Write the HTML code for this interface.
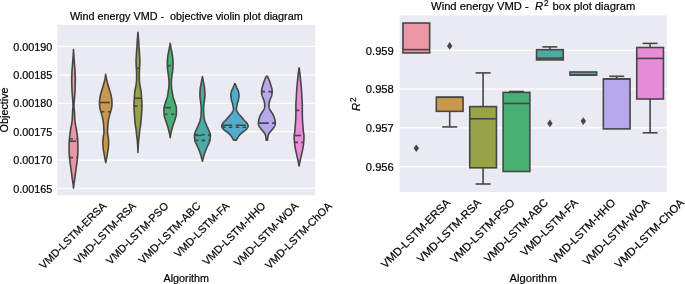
<!DOCTYPE html><html><head><meta charset="utf-8"><style>
html,body{margin:0;padding:0;background:#fff;width:685px;height:284px;overflow:hidden;}
svg{display:block;will-change:transform;}
.r{font-size:11.2px;}
text{font-family:"Liberation Sans",sans-serif;font-size:10.8px;fill:#000;stroke:#000;stroke-width:0.2px;}
</style></head><body>
<svg width="685" height="284" viewBox="0 0 685 284">
<rect width="685" height="284" fill="#fff"/>
<rect x="57.4" y="24.8" width="257.8" height="170.5" fill="#eaeaf2"/>
<line x1="57.4" x2="315.2" y1="46.45" y2="46.45" stroke="#fff" stroke-width="1.25"/>
<text x="52.3" y="50.55" text-anchor="end">0.00190</text>
<line x1="57.4" x2="315.2" y1="74.85" y2="74.85" stroke="#fff" stroke-width="1.25"/>
<text x="52.3" y="78.95" text-anchor="end">0.00185</text>
<line x1="57.4" x2="315.2" y1="103.25" y2="103.25" stroke="#fff" stroke-width="1.25"/>
<text x="52.3" y="107.35" text-anchor="end">0.00180</text>
<line x1="57.4" x2="315.2" y1="131.65" y2="131.65" stroke="#fff" stroke-width="1.25"/>
<text x="52.3" y="135.75" text-anchor="end">0.00175</text>
<line x1="57.4" x2="315.2" y1="160.05" y2="160.05" stroke="#fff" stroke-width="1.25"/>
<text x="52.3" y="164.15" text-anchor="end">0.00170</text>
<line x1="57.4" x2="315.2" y1="188.45" y2="188.45" stroke="#fff" stroke-width="1.25"/>
<text x="52.3" y="192.55" text-anchor="end">0.00165</text>
<rect x="399.6" y="15.4" width="267.2" height="176.7" fill="#eaeaf2"/>
<line x1="399.6" x2="666.8" y1="50.45" y2="50.45" stroke="#fff" stroke-width="1.25"/>
<text x="393.8" y="54.75" text-anchor="end" class="r">0.959</text>
<line x1="399.6" x2="666.8" y1="89.15" y2="89.15" stroke="#fff" stroke-width="1.25"/>
<text x="393.8" y="93.45" text-anchor="end" class="r">0.958</text>
<line x1="399.6" x2="666.8" y1="127.85" y2="127.85" stroke="#fff" stroke-width="1.25"/>
<text x="393.8" y="132.15" text-anchor="end" class="r">0.957</text>
<line x1="399.6" x2="666.8" y1="166.55" y2="166.55" stroke="#fff" stroke-width="1.25"/>
<text x="393.8" y="170.85" text-anchor="end" class="r">0.956</text>
<path d="M73.51,49.6 L73.54,50.1 L73.56,50.6 L73.59,51.1 L73.62,51.6 L73.65,52.1 L73.67,52.6 L73.7,53.1 L73.73,53.6 L73.76,54.1 L73.79,54.6 L73.82,55.1 L73.86,55.6 L73.89,56.1 L73.92,56.61 L73.95,57.11 L73.99,57.61 L74.02,58.11 L74.05,58.61 L74.09,59.11 L74.13,59.61 L74.16,60.11 L74.2,60.61 L74.24,61.11 L74.28,61.61 L74.32,62.11 L74.36,62.61 L74.4,63.11 L74.44,63.61 L74.47,64.11 L74.51,64.61 L74.55,65.11 L74.59,65.61 L74.64,66.11 L74.68,66.61 L74.72,67.11 L74.77,67.61 L74.81,68.11 L74.85,68.61 L74.89,69.11 L74.93,69.61 L74.96,70.11 L74.99,70.62 L75.02,71.12 L75.04,71.62 L75.07,72.12 L75.1,72.62 L75.12,73.12 L75.15,73.62 L75.17,74.12 L75.2,74.62 L75.22,75.12 L75.24,75.62 L75.26,76.12 L75.28,76.62 L75.29,77.12 L75.3,77.62 L75.31,78.12 L75.31,78.62 L75.31,79.12 L75.31,79.62 L75.31,80.12 L75.3,80.62 L75.3,81.12 L75.29,81.62 L75.28,82.12 L75.27,82.62 L75.26,83.12 L75.25,83.62 L75.24,84.12 L75.23,84.63 L75.22,85.13 L75.2,85.63 L75.19,86.13 L75.17,86.63 L75.15,87.13 L75.14,87.63 L75.12,88.13 L75.1,88.63 L75.09,89.13 L75.07,89.63 L75.05,90.13 L75.03,90.63 L75,91.13 L74.97,91.63 L74.94,92.13 L74.9,92.63 L74.86,93.13 L74.82,93.63 L74.78,94.13 L74.74,94.63 L74.7,95.13 L74.66,95.63 L74.62,96.13 L74.58,96.63 L74.54,97.13 L74.51,97.63 L74.47,98.14 L74.44,98.64 L74.4,99.14 L74.36,99.64 L74.31,100.14 L74.27,100.64 L74.23,101.14 L74.19,101.64 L74.15,102.14 L74.12,102.64 L74.09,103.14 L74.06,103.64 L74.04,104.14 L74.02,104.64 L74.01,105.14 L74.01,105.64 L74.02,106.14 L74.03,106.64 L74.06,107.14 L74.08,107.64 L74.12,108.14 L74.15,108.64 L74.19,109.14 L74.23,109.64 L74.28,110.14 L74.32,110.64 L74.36,111.14 L74.4,111.64 L74.44,112.15 L74.47,112.65 L74.5,113.15 L74.53,113.65 L74.55,114.15 L74.57,114.65 L74.59,115.15 L74.61,115.65 L74.63,116.15 L74.65,116.65 L74.67,117.15 L74.69,117.65 L74.71,118.15 L74.74,118.65 L74.77,119.15 L74.81,119.65 L74.86,120.15 L74.91,120.65 L74.97,121.15 L75.04,121.65 L75.11,122.15 L75.18,122.65 L75.25,123.15 L75.33,123.65 L75.41,124.15 L75.49,124.65 L75.57,125.15 L75.67,125.65 L75.77,126.16 L75.88,126.66 L75.98,127.16 L76.09,127.66 L76.19,128.16 L76.28,128.66 L76.37,129.16 L76.45,129.66 L76.53,130.16 L76.6,130.66 L76.67,131.16 L76.74,131.66 L76.81,132.16 L76.88,132.66 L76.94,133.16 L77,133.66 L77.06,134.16 L77.12,134.66 L77.18,135.16 L77.24,135.66 L77.3,136.16 L77.36,136.66 L77.41,137.16 L77.47,137.66 L77.52,138.16 L77.56,138.66 L77.61,139.16 L77.65,139.66 L77.68,140.17 L77.71,140.67 L77.75,141.17 L77.78,141.67 L77.81,142.17 L77.84,142.67 L77.86,143.17 L77.88,143.67 L77.9,144.17 L77.91,144.67 L77.91,145.17 L77.91,145.67 L77.91,146.17 L77.91,146.67 L77.91,147.17 L77.91,147.67 L77.91,148.17 L77.91,148.67 L77.91,149.17 L77.91,149.67 L77.91,150.17 L77.91,150.67 L77.9,151.17 L77.89,151.67 L77.87,152.17 L77.85,152.67 L77.82,153.17 L77.79,153.68 L77.76,154.18 L77.73,154.68 L77.7,155.18 L77.67,155.68 L77.63,156.18 L77.59,156.68 L77.55,157.18 L77.5,157.68 L77.45,158.18 L77.4,158.68 L77.34,159.18 L77.28,159.68 L77.23,160.18 L77.17,160.68 L77.11,161.18 L77.05,161.68 L76.99,162.18 L76.93,162.68 L76.87,163.18 L76.8,163.68 L76.74,164.18 L76.67,164.68 L76.6,165.18 L76.53,165.68 L76.45,166.18 L76.38,166.68 L76.3,167.18 L76.23,167.69 L76.16,168.19 L76.08,168.69 L76.01,169.19 L75.94,169.69 L75.87,170.19 L75.8,170.69 L75.74,171.19 L75.67,171.69 L75.61,172.19 L75.55,172.69 L75.48,173.19 L75.42,173.69 L75.36,174.19 L75.3,174.69 L75.24,175.19 L75.18,175.69 L75.12,176.19 L75.05,176.69 L74.99,177.19 L74.92,177.69 L74.86,178.19 L74.79,178.69 L74.71,179.19 L74.63,179.69 L74.55,180.19 L74.47,180.69 L74.39,181.19 L74.31,181.7 L74.23,182.2 L74.15,182.7 L74.08,183.2 L74.01,183.7 L73.95,184.2 L73.89,184.7 L73.83,185.2 L73.77,185.7 L73.71,186.2 L73.66,186.7 L73.61,187.2 L73.56,187.7 L73.51,188.2 L73.51,188.2 L73.47,187.7 L73.42,187.2 L73.36,186.7 L73.31,186.2 L73.26,185.7 L73.2,185.2 L73.14,184.7 L73.08,184.2 L73.01,183.7 L72.94,183.2 L72.87,182.7 L72.8,182.2 L72.72,181.7 L72.64,181.19 L72.55,180.69 L72.47,180.19 L72.39,179.69 L72.31,179.19 L72.24,178.69 L72.17,178.19 L72.1,177.69 L72.04,177.19 L71.97,176.69 L71.91,176.19 L71.85,175.69 L71.78,175.19 L71.72,174.69 L71.66,174.19 L71.6,173.69 L71.54,173.19 L71.48,172.69 L71.42,172.19 L71.35,171.69 L71.29,171.19 L71.22,170.69 L71.16,170.19 L71.09,169.69 L71.02,169.19 L70.94,168.69 L70.87,168.19 L70.79,167.69 L70.72,167.18 L70.65,166.68 L70.57,166.18 L70.5,165.68 L70.43,165.18 L70.36,164.68 L70.29,164.18 L70.22,163.68 L70.16,163.18 L70.1,162.68 L70.04,162.18 L69.98,161.68 L69.92,161.18 L69.86,160.68 L69.8,160.18 L69.74,159.68 L69.68,159.18 L69.63,158.68 L69.58,158.18 L69.53,157.68 L69.48,157.18 L69.43,156.68 L69.39,156.18 L69.36,155.68 L69.32,155.18 L69.29,154.68 L69.26,154.18 L69.23,153.68 L69.21,153.17 L69.18,152.67 L69.16,152.17 L69.14,151.67 L69.12,151.17 L69.11,150.67 L69.11,150.17 L69.11,149.67 L69.11,149.17 L69.11,148.67 L69.11,148.17 L69.11,147.67 L69.11,147.17 L69.11,146.67 L69.11,146.17 L69.11,145.67 L69.11,145.17 L69.12,144.67 L69.12,144.17 L69.14,143.67 L69.16,143.17 L69.19,142.67 L69.21,142.17 L69.25,141.67 L69.28,141.17 L69.31,140.67 L69.34,140.17 L69.38,139.66 L69.42,139.16 L69.46,138.66 L69.51,138.16 L69.56,137.66 L69.61,137.16 L69.67,136.66 L69.73,136.16 L69.79,135.66 L69.85,135.16 L69.91,134.66 L69.96,134.16 L70.02,133.66 L70.09,133.16 L70.15,132.66 L70.21,132.16 L70.28,131.66 L70.35,131.16 L70.42,130.66 L70.5,130.16 L70.57,129.66 L70.65,129.16 L70.74,128.66 L70.84,128.16 L70.94,127.66 L71.04,127.16 L71.15,126.66 L71.25,126.16 L71.35,125.65 L71.45,125.15 L71.54,124.65 L71.62,124.15 L71.7,123.65 L71.77,123.15 L71.85,122.65 L71.92,122.15 L71.99,121.65 L72.05,121.15 L72.11,120.65 L72.17,120.15 L72.21,119.65 L72.25,119.15 L72.28,118.65 L72.31,118.15 L72.34,117.65 L72.36,117.15 L72.38,116.65 L72.4,116.15 L72.42,115.65 L72.43,115.15 L72.45,114.65 L72.47,114.15 L72.5,113.65 L72.52,113.15 L72.55,112.65 L72.59,112.15 L72.62,111.64 L72.66,111.14 L72.71,110.64 L72.75,110.14 L72.79,109.64 L72.83,109.14 L72.87,108.64 L72.91,108.14 L72.94,107.64 L72.97,107.14 L72.99,106.64 L73.01,106.14 L73.01,105.64 L73.01,105.14 L73,104.64 L72.99,104.14 L72.96,103.64 L72.94,103.14 L72.91,102.64 L72.87,102.14 L72.84,101.64 L72.8,101.14 L72.75,100.64 L72.71,100.14 L72.67,99.64 L72.63,99.14 L72.59,98.64 L72.55,98.14 L72.51,97.63 L72.48,97.13 L72.44,96.63 L72.4,96.13 L72.37,95.63 L72.32,95.13 L72.28,94.63 L72.24,94.13 L72.2,93.63 L72.16,93.13 L72.12,92.63 L72.09,92.13 L72.06,91.63 L72.03,91.13 L72,90.63 L71.98,90.13 L71.96,89.63 L71.94,89.13 L71.92,88.63 L71.9,88.13 L71.89,87.63 L71.87,87.13 L71.85,86.63 L71.84,86.13 L71.82,85.63 L71.81,85.13 L71.8,84.63 L71.78,84.12 L71.77,83.62 L71.76,83.12 L71.75,82.62 L71.74,82.12 L71.73,81.62 L71.73,81.12 L71.72,80.62 L71.72,80.12 L71.71,79.62 L71.71,79.12 L71.71,78.62 L71.72,78.12 L71.72,77.62 L71.74,77.12 L71.75,76.62 L71.77,76.12 L71.78,75.62 L71.8,75.12 L71.83,74.62 L71.85,74.12 L71.87,73.62 L71.9,73.12 L71.93,72.62 L71.95,72.12 L71.98,71.62 L72.01,71.12 L72.03,70.62 L72.06,70.11 L72.1,69.61 L72.14,69.11 L72.17,68.61 L72.22,68.11 L72.26,67.61 L72.3,67.11 L72.34,66.61 L72.39,66.11 L72.43,65.61 L72.47,65.11 L72.51,64.61 L72.55,64.11 L72.59,63.61 L72.63,63.11 L72.67,62.61 L72.71,62.11 L72.75,61.61 L72.79,61.11 L72.82,60.61 L72.86,60.11 L72.9,59.61 L72.94,59.11 L72.97,58.61 L73.01,58.11 L73.04,57.61 L73.07,57.11 L73.1,56.61 L73.14,56.1 L73.17,55.6 L73.2,55.1 L73.23,54.6 L73.26,54.1 L73.29,53.6 L73.32,53.1 L73.35,52.6 L73.38,52.1 L73.41,51.6 L73.43,51.1 L73.46,50.6 L73.49,50.1 L73.51,49.6Z" fill="#ea96a3" stroke="#464646" stroke-width="1.6" stroke-linejoin="round"/>
<line x1="69.49" x2="77.54" y1="138.8" y2="138.8" stroke="#464646" stroke-width="1.6" stroke-dasharray="3.4 3.4"/>
<line x1="69.32" x2="77.71" y1="141.2" y2="141.2" stroke="#464646" stroke-width="1.6" stroke-dasharray="6.8 6.8"/>
<line x1="69.56" x2="77.47" y1="157.6" y2="157.6" stroke="#464646" stroke-width="1.6" stroke-dasharray="3.4 3.4"/>
<path d="M105.74,74.2 L105.8,74.7 L105.88,75.2 L105.95,75.71 L106.03,76.21 L106.12,76.71 L106.2,77.21 L106.3,77.72 L106.39,78.22 L106.49,78.72 L106.59,79.22 L106.69,79.73 L106.8,80.23 L106.91,80.73 L107.03,81.23 L107.15,81.73 L107.28,82.24 L107.42,82.74 L107.56,83.24 L107.7,83.74 L107.85,84.25 L107.99,84.75 L108.14,85.25 L108.28,85.75 L108.43,86.25 L108.58,86.76 L108.73,87.26 L108.89,87.76 L109.04,88.26 L109.2,88.77 L109.35,89.27 L109.51,89.77 L109.66,90.27 L109.8,90.78 L109.95,91.28 L110.09,91.78 L110.25,92.28 L110.4,92.78 L110.54,93.29 L110.69,93.79 L110.83,94.29 L110.96,94.79 L111.07,95.3 L111.18,95.8 L111.27,96.3 L111.36,96.8 L111.45,97.3 L111.54,97.81 L111.62,98.31 L111.7,98.81 L111.77,99.31 L111.83,99.82 L111.88,100.32 L111.92,100.82 L111.94,101.32 L111.95,101.83 L111.97,102.33 L111.98,102.83 L111.98,103.33 L111.99,103.83 L111.98,104.34 L111.96,104.84 L111.92,105.34 L111.87,105.84 L111.82,106.35 L111.76,106.85 L111.69,107.35 L111.61,107.85 L111.51,108.35 L111.39,108.86 L111.27,109.36 L111.13,109.86 L111,110.36 L110.86,110.87 L110.72,111.37 L110.59,111.87 L110.46,112.37 L110.31,112.88 L110.16,113.38 L110.01,113.88 L109.86,114.38 L109.71,114.88 L109.56,115.39 L109.42,115.89 L109.29,116.39 L109.16,116.89 L109.05,117.4 L108.93,117.9 L108.82,118.4 L108.71,118.9 L108.6,119.4 L108.5,119.91 L108.4,120.41 L108.32,120.91 L108.24,121.41 L108.17,121.92 L108.11,122.42 L108.06,122.92 L108.01,123.42 L107.97,123.92 L107.93,124.43 L107.89,124.93 L107.85,125.43 L107.82,125.93 L107.79,126.44 L107.76,126.94 L107.74,127.44 L107.71,127.94 L107.68,128.45 L107.66,128.95 L107.63,129.45 L107.61,129.95 L107.58,130.45 L107.57,130.96 L107.55,131.46 L107.54,131.96 L107.54,132.46 L107.55,132.97 L107.59,133.47 L107.66,133.97 L107.74,134.47 L107.84,134.97 L107.95,135.48 L108.05,135.98 L108.14,136.48 L108.21,136.98 L108.27,137.49 L108.32,137.99 L108.37,138.49 L108.43,138.99 L108.48,139.5 L108.52,140 L108.56,140.5 L108.59,141 L108.62,141.5 L108.63,142.01 L108.64,142.51 L108.63,143.01 L108.62,143.51 L108.6,144.02 L108.57,144.52 L108.54,145.02 L108.51,145.52 L108.47,146.02 L108.43,146.53 L108.39,147.03 L108.34,147.53 L108.3,148.03 L108.24,148.54 L108.17,149.04 L108.1,149.54 L108.02,150.04 L107.94,150.55 L107.85,151.05 L107.77,151.55 L107.68,152.05 L107.59,152.55 L107.51,153.06 L107.43,153.56 L107.35,154.06 L107.26,154.56 L107.18,155.07 L107.09,155.57 L107,156.07 L106.92,156.57 L106.83,157.07 L106.73,157.58 L106.64,158.08 L106.55,158.58 L106.45,159.08 L106.35,159.59 L106.25,160.09 L106.15,160.59 L106.05,161.09 L105.95,161.6 L105.84,162.1 L105.74,162.6 L105.74,162.6 L105.63,162.1 L105.53,161.6 L105.42,161.09 L105.32,160.59 L105.22,160.09 L105.12,159.59 L105.02,159.08 L104.93,158.58 L104.83,158.08 L104.74,157.58 L104.65,157.07 L104.56,156.57 L104.47,156.07 L104.38,155.57 L104.3,155.07 L104.21,154.56 L104.13,154.06 L104.04,153.56 L103.96,153.06 L103.88,152.55 L103.8,152.05 L103.71,151.55 L103.62,151.05 L103.54,150.55 L103.45,150.04 L103.37,149.54 L103.3,149.04 L103.23,148.54 L103.18,148.03 L103.13,147.53 L103.09,147.03 L103.05,146.53 L103.01,146.02 L102.97,145.52 L102.93,145.02 L102.9,144.52 L102.88,144.02 L102.86,143.51 L102.84,143.01 L102.84,142.51 L102.84,142.01 L102.86,141.5 L102.88,141 L102.91,140.5 L102.95,140 L103,139.5 L103.05,138.99 L103.1,138.49 L103.15,137.99 L103.21,137.49 L103.26,136.98 L103.34,136.48 L103.43,135.98 L103.53,135.48 L103.63,134.97 L103.73,134.47 L103.82,133.97 L103.89,133.47 L103.93,132.97 L103.94,132.46 L103.93,131.96 L103.92,131.46 L103.91,130.96 L103.89,130.45 L103.87,129.95 L103.84,129.45 L103.82,128.95 L103.79,128.45 L103.77,127.94 L103.74,127.44 L103.71,126.94 L103.68,126.44 L103.65,125.93 L103.62,125.43 L103.59,124.93 L103.55,124.43 L103.51,123.92 L103.46,123.42 L103.41,122.92 L103.36,122.42 L103.3,121.92 L103.24,121.41 L103.16,120.91 L103.07,120.41 L102.98,119.91 L102.87,119.4 L102.77,118.9 L102.66,118.4 L102.54,117.9 L102.43,117.4 L102.31,116.89 L102.19,116.39 L102.06,115.89 L101.91,115.39 L101.77,114.88 L101.61,114.38 L101.46,113.88 L101.31,113.38 L101.16,112.88 L101.02,112.37 L100.88,111.87 L100.75,111.37 L100.62,110.87 L100.48,110.36 L100.34,109.86 L100.21,109.36 L100.08,108.86 L99.97,108.35 L99.87,107.85 L99.78,107.35 L99.72,106.85 L99.66,106.35 L99.6,105.84 L99.55,105.34 L99.52,104.84 L99.49,104.34 L99.49,103.83 L99.49,103.33 L99.5,102.83 L99.51,102.33 L99.52,101.83 L99.54,101.32 L99.56,100.82 L99.6,100.32 L99.64,99.82 L99.7,99.31 L99.77,98.81 L99.85,98.31 L99.93,97.81 L100.02,97.3 L100.11,96.8 L100.2,96.3 L100.29,95.8 L100.4,95.3 L100.52,94.79 L100.65,94.29 L100.79,93.79 L100.93,93.29 L101.08,92.78 L101.23,92.28 L101.38,91.78 L101.53,91.28 L101.67,90.78 L101.82,90.27 L101.97,89.77 L102.12,89.27 L102.28,88.77 L102.43,88.26 L102.59,87.76 L102.74,87.26 L102.9,86.76 L103.05,86.25 L103.19,85.75 L103.34,85.25 L103.48,84.75 L103.63,84.25 L103.77,83.74 L103.92,83.24 L104.06,82.74 L104.19,82.24 L104.32,81.73 L104.45,81.23 L104.56,80.73 L104.67,80.23 L104.78,79.73 L104.88,79.22 L104.99,78.72 L105.08,78.22 L105.18,77.72 L105.27,77.21 L105.36,76.71 L105.44,76.21 L105.52,75.71 L105.6,75.2 L105.67,74.7 L105.74,74.2Z" fill="#ca984c" stroke="#464646" stroke-width="1.6" stroke-linejoin="round"/>
<line x1="99.57" x2="111.91" y1="102.5" y2="102.5" stroke="#464646" stroke-width="1.6" stroke-dasharray="10.2 3.4"/>
<line x1="100.89" x2="110.59" y1="111.7" y2="111.7" stroke="#464646" stroke-width="1.6" stroke-dasharray="3.4 3.4"/>
<path d="M137.96,32.2 L138.01,32.7 L138.05,33.2 L138.09,33.7 L138.14,34.2 L138.18,34.7 L138.22,35.21 L138.26,35.71 L138.3,36.21 L138.34,36.71 L138.38,37.21 L138.41,37.71 L138.45,38.21 L138.48,38.71 L138.52,39.21 L138.55,39.71 L138.58,40.21 L138.62,40.71 L138.65,41.22 L138.68,41.72 L138.71,42.22 L138.74,42.72 L138.77,43.22 L138.8,43.72 L138.83,44.22 L138.86,44.72 L138.89,45.22 L138.92,45.72 L138.96,46.22 L138.99,46.72 L139.03,47.23 L139.06,47.73 L139.1,48.23 L139.14,48.73 L139.18,49.23 L139.21,49.73 L139.25,50.23 L139.29,50.73 L139.33,51.23 L139.36,51.73 L139.4,52.23 L139.43,52.73 L139.46,53.23 L139.49,53.74 L139.52,54.24 L139.55,54.74 L139.58,55.24 L139.61,55.74 L139.64,56.24 L139.67,56.74 L139.7,57.24 L139.73,57.74 L139.75,58.24 L139.78,58.74 L139.8,59.25 L139.82,59.75 L139.84,60.25 L139.85,60.75 L139.86,61.25 L139.86,61.75 L139.86,62.25 L139.85,62.75 L139.84,63.25 L139.82,63.75 L139.8,64.25 L139.77,64.75 L139.75,65.25 L139.72,65.76 L139.69,66.26 L139.66,66.76 L139.63,67.26 L139.6,67.76 L139.57,68.26 L139.55,68.76 L139.53,69.26 L139.5,69.76 L139.47,70.26 L139.44,70.76 L139.41,71.27 L139.39,71.77 L139.36,72.27 L139.34,72.77 L139.33,73.27 L139.32,73.77 L139.31,74.27 L139.31,74.77 L139.31,75.27 L139.32,75.77 L139.32,76.27 L139.32,76.77 L139.33,77.28 L139.34,77.78 L139.34,78.28 L139.35,78.78 L139.36,79.28 L139.37,79.78 L139.38,80.28 L139.41,80.78 L139.45,81.28 L139.49,81.78 L139.55,82.28 L139.6,82.78 L139.67,83.28 L139.73,83.79 L139.8,84.29 L139.88,84.79 L139.95,85.29 L140.02,85.79 L140.09,86.29 L140.17,86.79 L140.27,87.29 L140.38,87.79 L140.49,88.29 L140.6,88.79 L140.71,89.3 L140.82,89.8 L140.91,90.3 L141,90.8 L141.06,91.3 L141.12,91.8 L141.17,92.3 L141.21,92.8 L141.25,93.3 L141.29,93.8 L141.33,94.3 L141.37,94.8 L141.4,95.31 L141.43,95.81 L141.47,96.31 L141.5,96.81 L141.53,97.31 L141.56,97.81 L141.59,98.31 L141.62,98.81 L141.66,99.31 L141.69,99.81 L141.72,100.31 L141.76,100.81 L141.79,101.32 L141.82,101.82 L141.85,102.32 L141.88,102.82 L141.9,103.32 L141.93,103.82 L141.94,104.32 L141.95,104.82 L141.96,105.32 L141.96,105.82 L141.96,106.32 L141.95,106.82 L141.93,107.33 L141.92,107.83 L141.89,108.33 L141.87,108.83 L141.84,109.33 L141.81,109.83 L141.78,110.33 L141.76,110.83 L141.73,111.33 L141.7,111.83 L141.67,112.33 L141.64,112.83 L141.6,113.34 L141.57,113.84 L141.53,114.34 L141.49,114.84 L141.45,115.34 L141.41,115.84 L141.36,116.34 L141.32,116.84 L141.28,117.34 L141.23,117.84 L141.19,118.34 L141.15,118.84 L141.11,119.35 L141.07,119.85 L141.03,120.35 L140.98,120.85 L140.94,121.35 L140.9,121.85 L140.85,122.35 L140.8,122.85 L140.75,123.35 L140.7,123.85 L140.65,124.35 L140.59,124.85 L140.53,125.36 L140.47,125.86 L140.39,126.36 L140.3,126.86 L140.2,127.36 L140.1,127.86 L140,128.36 L139.91,128.86 L139.84,129.36 L139.78,129.86 L139.73,130.36 L139.68,130.86 L139.64,131.37 L139.59,131.87 L139.55,132.37 L139.51,132.87 L139.46,133.37 L139.42,133.87 L139.37,134.37 L139.31,134.87 L139.25,135.37 L139.18,135.87 L139.11,136.37 L139.05,136.87 L138.98,137.38 L138.91,137.88 L138.85,138.38 L138.79,138.88 L138.73,139.38 L138.69,139.88 L138.64,140.38 L138.6,140.88 L138.56,141.38 L138.52,141.88 L138.48,142.38 L138.44,142.88 L138.41,143.38 L138.37,143.89 L138.34,144.39 L138.31,144.89 L138.28,145.39 L138.26,145.89 L138.23,146.39 L138.2,146.89 L138.17,147.39 L138.15,147.89 L138.12,148.39 L138.1,148.89 L138.08,149.4 L138.05,149.9 L138.03,150.4 L138.01,150.9 L138,151.4 L137.98,151.9 L137.96,152.4 L137.96,152.4 L137.95,151.9 L137.93,151.4 L137.91,150.9 L137.89,150.4 L137.87,149.9 L137.85,149.4 L137.83,148.89 L137.8,148.39 L137.78,147.89 L137.75,147.39 L137.72,146.89 L137.7,146.39 L137.67,145.89 L137.64,145.39 L137.61,144.89 L137.58,144.39 L137.55,143.89 L137.52,143.38 L137.48,142.88 L137.45,142.38 L137.41,141.88 L137.37,141.38 L137.33,140.88 L137.28,140.38 L137.24,139.88 L137.19,139.38 L137.14,138.88 L137.08,138.38 L137.01,137.88 L136.95,137.38 L136.88,136.87 L136.81,136.37 L136.74,135.87 L136.68,135.37 L136.62,134.87 L136.56,134.37 L136.51,133.87 L136.46,133.37 L136.42,132.87 L136.37,132.37 L136.33,131.87 L136.29,131.37 L136.24,130.86 L136.19,130.36 L136.14,129.86 L136.08,129.36 L136.01,128.86 L135.93,128.36 L135.83,127.86 L135.72,127.36 L135.62,126.86 L135.53,126.36 L135.46,125.86 L135.39,125.36 L135.33,124.85 L135.28,124.35 L135.22,123.85 L135.17,123.35 L135.12,122.85 L135.07,122.35 L135.03,121.85 L134.98,121.35 L134.94,120.85 L134.9,120.35 L134.86,119.85 L134.82,119.35 L134.78,118.84 L134.73,118.34 L134.69,117.84 L134.65,117.34 L134.6,116.84 L134.56,116.34 L134.52,115.84 L134.48,115.34 L134.44,114.84 L134.4,114.34 L134.36,113.84 L134.32,113.34 L134.29,112.83 L134.26,112.33 L134.23,111.83 L134.2,111.33 L134.17,110.83 L134.14,110.33 L134.11,109.83 L134.08,109.33 L134.06,108.83 L134.03,108.33 L134.01,107.83 L133.99,107.33 L133.98,106.82 L133.97,106.32 L133.96,105.82 L133.96,105.32 L133.97,104.82 L133.98,104.32 L134,103.82 L134.02,103.32 L134.04,102.82 L134.07,102.32 L134.1,101.82 L134.13,101.32 L134.17,100.81 L134.2,100.31 L134.24,99.81 L134.27,99.31 L134.3,98.81 L134.34,98.31 L134.37,97.81 L134.4,97.31 L134.43,96.81 L134.46,96.31 L134.49,95.81 L134.52,95.31 L134.56,94.8 L134.59,94.3 L134.63,93.8 L134.67,93.3 L134.71,92.8 L134.76,92.3 L134.81,91.8 L134.86,91.3 L134.93,90.8 L135.01,90.3 L135.11,89.8 L135.21,89.3 L135.32,88.79 L135.44,88.29 L135.55,87.79 L135.65,87.29 L135.75,86.79 L135.83,86.29 L135.91,85.79 L135.98,85.29 L136.05,84.79 L136.12,84.29 L136.19,83.79 L136.26,83.28 L136.32,82.78 L136.38,82.28 L136.43,81.78 L136.48,81.28 L136.51,80.78 L136.54,80.28 L136.56,79.78 L136.57,79.28 L136.58,78.78 L136.58,78.28 L136.59,77.78 L136.6,77.28 L136.6,76.77 L136.6,76.27 L136.61,75.77 L136.61,75.27 L136.61,74.77 L136.61,74.27 L136.61,73.77 L136.6,73.27 L136.58,72.77 L136.56,72.27 L136.54,71.77 L136.51,71.27 L136.48,70.76 L136.46,70.26 L136.43,69.76 L136.4,69.26 L136.37,68.76 L136.35,68.26 L136.33,67.76 L136.3,67.26 L136.27,66.76 L136.24,66.26 L136.21,65.76 L136.18,65.25 L136.15,64.75 L136.13,64.25 L136.1,63.75 L136.09,63.25 L136.07,62.75 L136.06,62.25 L136.06,61.75 L136.07,61.25 L136.08,60.75 L136.09,60.25 L136.1,59.75 L136.12,59.25 L136.15,58.74 L136.17,58.24 L136.2,57.74 L136.23,57.24 L136.26,56.74 L136.29,56.24 L136.32,55.74 L136.35,55.24 L136.38,54.74 L136.4,54.24 L136.43,53.74 L136.46,53.23 L136.49,52.73 L136.53,52.23 L136.56,51.73 L136.6,51.23 L136.64,50.73 L136.67,50.23 L136.71,49.73 L136.75,49.23 L136.79,48.73 L136.83,48.23 L136.86,47.73 L136.9,47.23 L136.93,46.72 L136.97,46.22 L137,45.72 L137.03,45.22 L137.06,44.72 L137.09,44.22 L137.13,43.72 L137.16,43.22 L137.19,42.72 L137.22,42.22 L137.25,41.72 L137.28,41.22 L137.31,40.71 L137.34,40.21 L137.37,39.71 L137.41,39.21 L137.44,38.71 L137.48,38.21 L137.51,37.71 L137.55,37.21 L137.59,36.71 L137.63,36.21 L137.67,35.71 L137.71,35.21 L137.75,34.7 L137.79,34.2 L137.83,33.7 L137.88,33.2 L137.92,32.7 L137.96,32.2Z" fill="#98a246" stroke="#464646" stroke-width="1.6" stroke-linejoin="round"/>
<line x1="136.37" x2="139.56" y1="68.3" y2="68.3" stroke="#464646" stroke-width="1.6" stroke-dasharray="3.4 3.4"/>
<line x1="134.38" x2="141.55" y1="98.2" y2="98.2" stroke="#464646" stroke-width="1.6" stroke-dasharray="6.8 6.8"/>
<line x1="134" x2="141.92" y1="106.1" y2="106.1" stroke="#464646" stroke-width="1.6" stroke-dasharray="3.4 3.4"/>
<path d="M170.19,43.2 L170.27,43.7 L170.35,44.2 L170.44,44.71 L170.52,45.21 L170.61,45.71 L170.7,46.21 L170.79,46.71 L170.87,47.22 L170.96,47.72 L171.05,48.22 L171.15,48.72 L171.24,49.23 L171.34,49.73 L171.44,50.23 L171.55,50.73 L171.65,51.23 L171.75,51.74 L171.84,52.24 L171.94,52.74 L172.03,53.24 L172.11,53.74 L172.2,54.25 L172.28,54.75 L172.37,55.25 L172.45,55.75 L172.53,56.26 L172.61,56.76 L172.68,57.26 L172.74,57.76 L172.79,58.26 L172.83,58.77 L172.86,59.27 L172.89,59.77 L172.92,60.27 L172.94,60.77 L172.97,61.28 L172.99,61.78 L173.01,62.28 L173.02,62.78 L173.03,63.29 L173.04,63.79 L173.04,64.29 L173.03,64.79 L173.02,65.29 L173,65.8 L172.98,66.3 L172.95,66.8 L172.92,67.3 L172.89,67.8 L172.86,68.31 L172.82,68.81 L172.79,69.31 L172.74,69.81 L172.69,70.31 L172.62,70.82 L172.55,71.32 L172.47,71.82 L172.39,72.32 L172.3,72.83 L172.22,73.33 L172.14,73.83 L172.07,74.33 L172.01,74.83 L171.95,75.34 L171.89,75.84 L171.83,76.34 L171.77,76.84 L171.71,77.34 L171.66,77.85 L171.6,78.35 L171.55,78.85 L171.5,79.35 L171.45,79.86 L171.41,80.36 L171.38,80.86 L171.36,81.36 L171.34,81.86 L171.34,82.37 L171.34,82.87 L171.35,83.37 L171.36,83.87 L171.37,84.37 L171.38,84.88 L171.4,85.38 L171.42,85.88 L171.44,86.38 L171.47,86.89 L171.52,87.39 L171.57,87.89 L171.64,88.39 L171.71,88.89 L171.78,89.4 L171.87,89.9 L171.95,90.4 L172.03,90.9 L172.11,91.4 L172.18,91.91 L172.26,92.41 L172.33,92.91 L172.41,93.41 L172.49,93.91 L172.57,94.42 L172.66,94.92 L172.75,95.42 L172.85,95.92 L172.95,96.43 L173.07,96.93 L173.2,97.43 L173.34,97.93 L173.5,98.43 L173.67,98.94 L173.85,99.44 L174.03,99.94 L174.22,100.44 L174.39,100.94 L174.56,101.45 L174.72,101.95 L174.88,102.45 L175.03,102.95 L175.19,103.46 L175.35,103.96 L175.51,104.46 L175.66,104.96 L175.8,105.46 L175.93,105.97 L176.05,106.47 L176.15,106.97 L176.23,107.47 L176.32,107.97 L176.39,108.48 L176.43,108.98 L176.44,109.48 L176.43,109.98 L176.43,110.49 L176.42,110.99 L176.4,111.49 L176.39,111.99 L176.37,112.49 L176.35,113 L176.32,113.5 L176.3,114 L176.27,114.5 L176.21,115 L176.12,115.51 L176.02,116.01 L175.9,116.51 L175.76,117.01 L175.61,117.51 L175.46,118.02 L175.31,118.52 L175.16,119.02 L175.01,119.52 L174.86,120.03 L174.71,120.53 L174.54,121.03 L174.36,121.53 L174.19,122.03 L174,122.54 L173.82,123.04 L173.64,123.54 L173.47,124.04 L173.3,124.54 L173.14,125.05 L172.99,125.55 L172.83,126.05 L172.68,126.55 L172.53,127.06 L172.38,127.56 L172.24,128.06 L172.1,128.56 L171.96,129.06 L171.83,129.57 L171.7,130.07 L171.57,130.57 L171.44,131.07 L171.32,131.57 L171.2,132.08 L171.09,132.58 L170.98,133.08 L170.87,133.58 L170.77,134.09 L170.68,134.59 L170.58,135.09 L170.5,135.59 L170.41,136.09 L170.33,136.6 L170.26,137.1 L170.19,137.6 L170.19,137.6 L170.12,137.1 L170.04,136.6 L169.96,136.09 L169.88,135.59 L169.79,135.09 L169.7,134.59 L169.6,134.09 L169.5,133.58 L169.4,133.08 L169.29,132.58 L169.17,132.08 L169.05,131.57 L168.93,131.07 L168.81,130.57 L168.68,130.07 L168.55,129.57 L168.41,129.06 L168.28,128.56 L168.14,128.06 L167.99,127.56 L167.84,127.06 L167.69,126.55 L167.54,126.05 L167.39,125.55 L167.23,125.05 L167.07,124.54 L166.91,124.04 L166.73,123.54 L166.55,123.04 L166.37,122.54 L166.19,122.03 L166.01,121.53 L165.84,121.03 L165.67,120.53 L165.51,120.03 L165.37,119.52 L165.22,119.02 L165.07,118.52 L164.91,118.02 L164.76,117.51 L164.61,117.01 L164.48,116.51 L164.36,116.01 L164.25,115.51 L164.17,115 L164.11,114.5 L164.08,114 L164.05,113.5 L164.03,113 L164.01,112.49 L163.99,111.99 L163.97,111.49 L163.96,110.99 L163.95,110.49 L163.94,109.98 L163.94,109.48 L163.94,108.98 L163.98,108.48 L164.06,107.97 L164.14,107.47 L164.23,106.97 L164.33,106.47 L164.44,105.97 L164.57,105.46 L164.72,104.96 L164.87,104.46 L165.02,103.96 L165.18,103.46 L165.34,102.95 L165.5,102.45 L165.65,101.95 L165.81,101.45 L165.98,100.94 L166.16,100.44 L166.34,99.94 L166.52,99.44 L166.7,98.94 L166.87,98.43 L167.03,97.93 L167.18,97.43 L167.31,96.93 L167.42,96.43 L167.52,95.92 L167.62,95.42 L167.71,94.92 L167.8,94.42 L167.88,93.91 L167.96,93.41 L168.04,92.91 L168.12,92.41 L168.19,91.91 L168.27,91.4 L168.35,90.9 L168.43,90.4 L168.51,89.9 L168.59,89.4 L168.67,88.89 L168.74,88.39 L168.8,87.89 L168.86,87.39 L168.9,86.89 L168.93,86.38 L168.95,85.88 L168.97,85.38 L168.99,84.88 L169.01,84.37 L169.02,83.87 L169.03,83.37 L169.04,82.87 L169.04,82.37 L169.03,81.86 L169.02,81.36 L168.99,80.86 L168.96,80.36 L168.92,79.86 L168.88,79.35 L168.83,78.85 L168.78,78.35 L168.72,77.85 L168.66,77.34 L168.6,76.84 L168.54,76.34 L168.48,75.84 L168.42,75.34 L168.37,74.83 L168.31,74.33 L168.23,73.83 L168.15,73.33 L168.07,72.83 L167.99,72.32 L167.91,71.82 L167.83,71.32 L167.75,70.82 L167.69,70.31 L167.63,69.81 L167.59,69.31 L167.55,68.81 L167.52,68.31 L167.48,67.8 L167.45,67.3 L167.42,66.8 L167.4,66.3 L167.37,65.8 L167.36,65.29 L167.34,64.79 L167.34,64.29 L167.34,63.79 L167.34,63.29 L167.35,62.78 L167.37,62.28 L167.39,61.78 L167.41,61.28 L167.43,60.77 L167.46,60.27 L167.49,59.77 L167.52,59.27 L167.55,58.77 L167.59,58.26 L167.64,57.76 L167.7,57.26 L167.77,56.76 L167.84,56.26 L167.92,55.75 L168.01,55.25 L168.09,54.75 L168.18,54.25 L168.26,53.74 L168.35,53.24 L168.44,52.74 L168.53,52.24 L168.63,51.74 L168.73,51.23 L168.83,50.73 L168.93,50.23 L169.03,49.73 L169.13,49.23 L169.23,48.72 L169.32,48.22 L169.41,47.72 L169.5,47.22 L169.59,46.71 L169.68,46.21 L169.77,45.71 L169.85,45.21 L169.94,44.71 L170.02,44.2 L170.1,43.7 L170.19,43.2Z" fill="#49af72" stroke="#464646" stroke-width="1.6" stroke-linejoin="round"/>
<line x1="167.39" x2="172.98" y1="65.6" y2="65.6" stroke="#464646" stroke-width="1.6" stroke-dasharray="3.4 3.4"/>
<line x1="164.16" x2="176.21" y1="107.7" y2="107.7" stroke="#464646" stroke-width="1.6" stroke-dasharray="6.8 6.8"/>
<line x1="164.15" x2="176.23" y1="114.2" y2="114.2" stroke="#464646" stroke-width="1.6" stroke-dasharray="3.4 3.4"/>
<path d="M202.41,76.6 L202.51,77.1 L202.61,77.6 L202.71,78.1 L202.81,78.6 L202.9,79.11 L203,79.61 L203.09,80.11 L203.19,80.61 L203.28,81.11 L203.37,81.61 L203.46,82.11 L203.55,82.61 L203.65,83.12 L203.74,83.62 L203.84,84.12 L203.95,84.62 L204.05,85.12 L204.14,85.62 L204.24,86.12 L204.33,86.62 L204.41,87.12 L204.48,87.63 L204.54,88.13 L204.59,88.63 L204.63,89.13 L204.66,89.63 L204.7,90.13 L204.73,90.63 L204.76,91.13 L204.79,91.64 L204.82,92.14 L204.84,92.64 L204.86,93.14 L204.88,93.64 L204.9,94.14 L204.91,94.64 L204.91,95.14 L204.91,95.64 L204.9,96.15 L204.87,96.65 L204.83,97.15 L204.79,97.65 L204.73,98.15 L204.66,98.65 L204.6,99.15 L204.52,99.65 L204.45,100.16 L204.38,100.66 L204.31,101.16 L204.25,101.66 L204.19,102.16 L204.13,102.66 L204.07,103.16 L203.99,103.66 L203.92,104.17 L203.85,104.67 L203.78,105.17 L203.71,105.67 L203.66,106.17 L203.61,106.67 L203.58,107.17 L203.56,107.67 L203.56,108.17 L203.57,108.68 L203.57,109.18 L203.58,109.68 L203.58,110.18 L203.59,110.68 L203.6,111.18 L203.62,111.68 L203.63,112.18 L203.65,112.69 L203.67,113.19 L203.68,113.69 L203.7,114.19 L203.73,114.69 L203.76,115.19 L203.81,115.69 L203.88,116.19 L203.95,116.69 L204.03,117.2 L204.12,117.7 L204.22,118.2 L204.32,118.7 L204.43,119.2 L204.53,119.7 L204.66,120.2 L204.8,120.7 L204.96,121.21 L205.14,121.71 L205.33,122.21 L205.52,122.71 L205.72,123.21 L205.93,123.71 L206.14,124.21 L206.34,124.71 L206.54,125.21 L206.75,125.72 L206.98,126.22 L207.21,126.72 L207.45,127.22 L207.68,127.72 L207.91,128.22 L208.14,128.72 L208.36,129.22 L208.57,129.73 L208.76,130.23 L208.96,130.73 L209.17,131.23 L209.39,131.73 L209.61,132.23 L209.81,132.73 L209.99,133.23 L210.14,133.73 L210.26,134.24 L210.34,134.74 L210.36,135.24 L210.36,135.74 L210.34,136.24 L210.32,136.74 L210.29,137.24 L210.25,137.74 L210.21,138.25 L210.16,138.75 L210.1,139.25 L210.04,139.75 L209.98,140.25 L209.9,140.75 L209.78,141.25 L209.62,141.75 L209.42,142.26 L209.19,142.76 L208.95,143.26 L208.7,143.76 L208.45,144.26 L208.2,144.76 L207.96,145.26 L207.74,145.76 L207.53,146.26 L207.3,146.77 L207.08,147.27 L206.85,147.77 L206.62,148.27 L206.4,148.77 L206.18,149.27 L205.97,149.77 L205.76,150.27 L205.56,150.78 L205.37,151.28 L205.19,151.78 L205.01,152.28 L204.83,152.78 L204.66,153.28 L204.49,153.78 L204.32,154.28 L204.16,154.78 L204.01,155.29 L203.86,155.79 L203.71,156.29 L203.56,156.79 L203.42,157.29 L203.28,157.79 L203.15,158.29 L203.02,158.79 L202.89,159.3 L202.76,159.8 L202.64,160.3 L202.53,160.8 L202.41,161.3 L202.41,161.3 L202.3,160.8 L202.18,160.3 L202.06,159.8 L201.94,159.3 L201.81,158.79 L201.68,158.29 L201.54,157.79 L201.4,157.29 L201.26,156.79 L201.12,156.29 L200.97,155.79 L200.82,155.29 L200.66,154.78 L200.5,154.28 L200.34,153.78 L200.17,153.28 L200,152.78 L199.82,152.28 L199.64,151.78 L199.45,151.28 L199.26,150.78 L199.07,150.27 L198.86,149.77 L198.65,149.27 L198.42,148.77 L198.2,148.27 L197.97,147.77 L197.75,147.27 L197.52,146.77 L197.3,146.26 L197.08,145.76 L196.86,145.26 L196.63,144.76 L196.38,144.26 L196.12,143.76 L195.87,143.26 L195.63,142.76 L195.41,142.26 L195.21,141.75 L195.04,141.25 L194.92,140.75 L194.84,140.25 L194.78,139.75 L194.72,139.25 L194.67,138.75 L194.62,138.25 L194.57,137.74 L194.54,137.24 L194.51,136.74 L194.48,136.24 L194.47,135.74 L194.46,135.24 L194.49,134.74 L194.56,134.24 L194.68,133.73 L194.84,133.23 L195.02,132.73 L195.22,132.23 L195.43,131.73 L195.65,131.23 L195.86,130.73 L196.06,130.23 L196.26,129.73 L196.46,129.22 L196.68,128.72 L196.91,128.22 L197.14,127.72 L197.38,127.22 L197.62,126.72 L197.85,126.22 L198.07,125.72 L198.28,125.21 L198.49,124.71 L198.69,124.21 L198.9,123.71 L199.1,123.21 L199.3,122.71 L199.5,122.21 L199.69,121.71 L199.86,121.21 L200.02,120.7 L200.17,120.2 L200.29,119.7 L200.4,119.2 L200.5,118.7 L200.6,118.2 L200.7,117.7 L200.79,117.2 L200.87,116.69 L200.95,116.19 L201.01,115.69 L201.06,115.19 L201.1,114.69 L201.12,114.19 L201.14,113.69 L201.16,113.19 L201.18,112.69 L201.19,112.18 L201.21,111.68 L201.22,111.18 L201.23,110.68 L201.24,110.18 L201.25,109.68 L201.26,109.18 L201.26,108.68 L201.26,108.17 L201.26,107.67 L201.24,107.17 L201.21,106.67 L201.17,106.17 L201.11,105.67 L201.05,105.17 L200.98,104.67 L200.91,104.17 L200.83,103.66 L200.76,103.16 L200.69,102.66 L200.63,102.16 L200.57,101.66 L200.51,101.16 L200.44,100.66 L200.37,100.16 L200.3,99.65 L200.23,99.15 L200.16,98.65 L200.1,98.15 L200.04,97.65 L199.99,97.15 L199.95,96.65 L199.93,96.15 L199.91,95.64 L199.91,95.14 L199.92,94.64 L199.93,94.14 L199.94,93.64 L199.96,93.14 L199.98,92.64 L200.01,92.14 L200.03,91.64 L200.06,91.13 L200.09,90.63 L200.13,90.13 L200.16,89.63 L200.2,89.13 L200.23,88.63 L200.28,88.13 L200.35,87.63 L200.42,87.12 L200.5,86.62 L200.59,86.12 L200.68,85.62 L200.78,85.12 L200.88,84.62 L200.98,84.12 L201.08,83.62 L201.18,83.12 L201.27,82.61 L201.36,82.11 L201.45,81.61 L201.55,81.11 L201.64,80.61 L201.73,80.11 L201.83,79.61 L201.92,79.11 L202.02,78.6 L202.12,78.1 L202.21,77.6 L202.31,77.1 L202.41,76.6Z" fill="#4baba4" stroke="#464646" stroke-width="1.6" stroke-linejoin="round"/>
<line x1="194.57" x2="210.26" y1="134.7" y2="134.7" stroke="#464646" stroke-width="1.6" stroke-dasharray="3.4 3.4"/>
<line x1="194.54" x2="210.28" y1="135.5" y2="135.5" stroke="#464646" stroke-width="1.6" stroke-dasharray="6.8 6.8"/>
<line x1="194.94" x2="209.89" y1="140.4" y2="140.4" stroke="#464646" stroke-width="1.6" stroke-dasharray="3.4 3.4"/>
<path d="M235.34,83.9 L235.51,84.4 L235.69,84.9 L235.87,85.41 L236.05,85.91 L236.24,86.41 L236.44,86.91 L236.63,87.41 L236.83,87.91 L237.06,88.42 L237.31,88.92 L237.57,89.42 L237.82,89.92 L238.06,90.42 L238.26,90.93 L238.42,91.43 L238.53,91.93 L238.63,92.43 L238.72,92.93 L238.8,93.43 L238.87,93.94 L238.93,94.44 L238.97,94.94 L238.99,95.44 L238.98,95.94 L238.95,96.44 L238.91,96.95 L238.85,97.45 L238.77,97.95 L238.69,98.45 L238.6,98.95 L238.51,99.46 L238.41,99.96 L238.29,100.46 L238.15,100.96 L238,101.46 L237.83,101.96 L237.65,102.47 L237.49,102.97 L237.34,103.47 L237.23,103.97 L237.13,104.47 L237.04,104.97 L236.96,105.48 L236.86,105.98 L236.75,106.48 L236.61,106.98 L236.49,107.48 L236.44,107.99 L236.44,108.49 L236.44,108.99 L236.44,109.49 L236.52,109.99 L236.72,110.49 L236.94,111 L237.16,111.5 L237.41,112 L237.69,112.5 L238,113 L238.37,113.51 L238.77,114.01 L239.22,114.51 L239.68,115.01 L240.14,115.51 L240.59,116.01 L241.02,116.52 L241.44,117.02 L241.86,117.52 L242.28,118.02 L242.7,118.52 L243.13,119.03 L243.56,119.53 L244.01,120.03 L244.47,120.53 L244.97,121.03 L245.5,121.53 L245.99,122.04 L246.43,122.54 L246.85,123.04 L247.22,123.54 L247.51,124.04 L247.73,124.54 L247.93,125.05 L248.07,125.55 L248.14,126.05 L248.08,126.55 L247.9,127.05 L247.65,127.56 L247.36,128.06 L247.02,128.56 L246.57,129.06 L246.05,129.56 L245.49,130.06 L244.89,130.57 L244.21,131.07 L243.49,131.57 L242.8,132.07 L242.18,132.57 L241.57,133.07 L240.99,133.58 L240.46,134.08 L239.97,134.58 L239.52,135.08 L239.11,135.58 L238.72,136.09 L238.37,136.59 L238.05,137.09 L237.75,137.59 L237.46,138.09 L237.17,138.59 L236.88,139.1 L236.61,139.6 L236.34,140.1 L233.54,140.1 L233.27,139.6 L232.99,139.1 L232.71,138.59 L232.42,138.09 L232.12,137.59 L231.82,137.09 L231.5,136.59 L231.15,136.09 L230.77,135.58 L230.35,135.08 L229.9,134.58 L229.42,134.08 L228.88,133.58 L228.31,133.07 L227.7,132.57 L227.07,132.07 L226.39,131.57 L225.67,131.07 L224.98,130.57 L224.39,130.06 L223.83,129.56 L223.3,129.06 L222.85,128.56 L222.51,128.06 L222.23,127.56 L221.98,127.05 L221.8,126.55 L221.74,126.05 L221.8,125.55 L221.95,125.05 L222.15,124.54 L222.36,124.04 L222.65,123.54 L223.03,123.04 L223.45,122.54 L223.88,122.04 L224.38,121.53 L224.9,121.03 L225.41,120.53 L225.87,120.03 L226.31,119.53 L226.74,119.03 L227.17,118.52 L227.6,118.02 L228.02,117.52 L228.44,117.02 L228.86,116.52 L229.28,116.01 L229.74,115.51 L230.2,115.01 L230.66,114.51 L231.1,114.01 L231.51,113.51 L231.87,113 L232.18,112.5 L232.47,112 L232.72,111.5 L232.94,111 L233.16,110.49 L233.36,109.99 L233.44,109.49 L233.44,108.99 L233.44,108.49 L233.44,107.99 L233.39,107.48 L233.27,106.98 L233.13,106.48 L233.01,105.98 L232.92,105.48 L232.83,104.97 L232.74,104.47 L232.64,103.97 L232.53,103.47 L232.39,102.97 L232.22,102.47 L232.05,101.96 L231.88,101.46 L231.73,100.96 L231.59,100.46 L231.46,99.96 L231.36,99.46 L231.27,98.95 L231.18,98.45 L231.1,97.95 L231.03,97.45 L230.97,96.95 L230.92,96.44 L230.89,95.94 L230.89,95.44 L230.91,94.94 L230.95,94.44 L231,93.94 L231.07,93.43 L231.16,92.93 L231.25,92.43 L231.34,91.93 L231.45,91.43 L231.61,90.93 L231.82,90.42 L232.05,89.92 L232.31,89.42 L232.57,88.92 L232.81,88.42 L233.04,87.91 L233.24,87.41 L233.44,86.91 L233.63,86.41 L233.82,85.91 L234.01,85.41 L234.19,84.9 L234.36,84.4 L234.54,83.9Z" fill="#53accd" stroke="#464646" stroke-width="1.6" stroke-linejoin="round"/>
<line x1="222" x2="247.88" y1="125.3" y2="125.3" stroke="#464646" stroke-width="1.6" stroke-dasharray="10.2 3.4"/>
<line x1="222.17" x2="247.7" y1="127.2" y2="127.2" stroke="#464646" stroke-width="1.6" stroke-dasharray="3.4 3.4"/>
<path d="M267.36,76.2 L267.62,76.7 L267.87,77.2 L268.11,77.7 L268.34,78.2 L268.56,78.7 L268.78,79.2 L268.99,79.71 L269.19,80.21 L269.39,80.71 L269.58,81.21 L269.76,81.71 L269.93,82.21 L270.1,82.71 L270.25,83.21 L270.4,83.71 L270.55,84.21 L270.69,84.71 L270.83,85.21 L270.97,85.71 L271.12,86.22 L271.28,86.72 L271.44,87.22 L271.59,87.72 L271.72,88.22 L271.83,88.72 L271.91,89.22 L272,89.72 L272.07,90.22 L272.12,90.72 L272.16,91.22 L272.16,91.72 L272.14,92.23 L272.11,92.73 L272.06,93.23 L271.99,93.73 L271.92,94.23 L271.84,94.73 L271.76,95.23 L271.64,95.73 L271.47,96.23 L271.27,96.73 L271.05,97.23 L270.83,97.73 L270.62,98.23 L270.44,98.74 L270.25,99.24 L270.05,99.74 L269.87,100.24 L269.7,100.74 L269.55,101.24 L269.43,101.74 L269.33,102.24 L269.24,102.74 L269.16,103.24 L269.09,103.74 L269.05,104.24 L269.02,104.74 L268.99,105.25 L268.97,105.75 L268.96,106.25 L269,106.75 L269.08,107.25 L269.18,107.75 L269.3,108.25 L269.48,108.75 L269.71,109.25 L269.98,109.75 L270.24,110.25 L270.53,110.75 L270.85,111.25 L271.18,111.76 L271.5,112.26 L271.83,112.76 L272.16,113.26 L272.49,113.76 L272.8,114.26 L273.09,114.76 L273.37,115.26 L273.63,115.76 L273.85,116.26 L274.03,116.76 L274.18,117.26 L274.32,117.76 L274.45,118.27 L274.59,118.77 L274.72,119.27 L274.85,119.77 L274.96,120.27 L275.06,120.77 L275.15,121.27 L275.23,121.77 L275.27,122.27 L275.29,122.77 L275.3,123.27 L275.31,123.77 L275.3,124.28 L275.21,124.78 L275.03,125.28 L274.81,125.78 L274.58,126.28 L274.3,126.78 L273.96,127.28 L273.6,127.78 L273.23,128.28 L272.84,128.78 L272.43,129.28 L272.01,129.78 L271.59,130.28 L271.16,130.79 L270.71,131.29 L270.29,131.79 L269.9,132.29 L269.53,132.79 L269.18,133.29 L268.87,133.79 L268.62,134.29 L268.41,134.79 L268.22,135.29 L268.06,135.79 L267.94,136.29 L267.85,136.79 L267.77,137.3 L267.71,137.8 L267.66,138.3 L267.63,138.8 L267.6,139.3 L267.57,139.8 L267.56,140.3 L266.16,140.3 L266.15,139.8 L266.13,139.3 L266.1,138.8 L266.06,138.3 L266.02,137.8 L265.95,137.3 L265.87,136.79 L265.78,136.29 L265.66,135.79 L265.51,135.29 L265.32,134.79 L265.1,134.29 L264.85,133.79 L264.54,133.29 L264.19,132.79 L263.83,132.29 L263.44,131.79 L263.01,131.29 L262.57,130.79 L262.13,130.28 L261.71,129.78 L261.29,129.28 L260.88,128.78 L260.5,128.28 L260.13,127.78 L259.77,127.28 L259.43,126.78 L259.15,126.28 L258.92,125.78 L258.7,125.28 L258.52,124.78 L258.42,124.28 L258.41,123.77 L258.42,123.27 L258.44,122.77 L258.46,122.27 L258.5,121.77 L258.57,121.27 L258.67,120.77 L258.77,120.27 L258.88,119.77 L259,119.27 L259.13,118.77 L259.27,118.27 L259.41,117.76 L259.55,117.26 L259.7,116.76 L259.88,116.26 L260.1,115.76 L260.35,115.26 L260.64,114.76 L260.93,114.26 L261.23,113.76 L261.56,113.26 L261.9,112.76 L262.23,112.26 L262.55,111.76 L262.88,111.25 L263.19,110.75 L263.48,110.25 L263.75,109.75 L264.01,109.25 L264.25,108.75 L264.42,108.25 L264.54,107.75 L264.64,107.25 L264.72,106.75 L264.76,106.25 L264.76,105.75 L264.74,105.25 L264.71,104.74 L264.67,104.24 L264.63,103.74 L264.57,103.24 L264.49,102.74 L264.39,102.24 L264.29,101.74 L264.18,101.24 L264.03,100.74 L263.86,100.24 L263.67,99.74 L263.48,99.24 L263.29,98.74 L263.1,98.23 L262.9,97.73 L262.68,97.23 L262.46,96.73 L262.26,96.23 L262.09,95.73 L261.97,95.23 L261.88,94.73 L261.8,94.23 L261.73,93.73 L261.67,93.23 L261.62,92.73 L261.58,92.23 L261.56,91.72 L261.57,91.22 L261.6,90.72 L261.66,90.22 L261.73,89.72 L261.81,89.22 L261.89,88.72 L262,88.22 L262.14,87.72 L262.29,87.22 L262.45,86.72 L262.61,86.22 L262.76,85.71 L262.9,85.21 L263.04,84.71 L263.18,84.21 L263.32,83.71 L263.47,83.21 L263.63,82.71 L263.79,82.21 L263.97,81.71 L264.15,81.21 L264.34,80.71 L264.53,80.21 L264.74,79.71 L264.94,79.2 L265.16,78.7 L265.39,78.2 L265.62,77.7 L265.86,77.2 L266.11,76.7 L266.36,76.2Z" fill="#b6a8eb" stroke="#464646" stroke-width="1.6" stroke-linejoin="round"/>
<line x1="261.62" x2="272.11" y1="91.6" y2="91.6" stroke="#464646" stroke-width="1.6" stroke-dasharray="3.4 3.4"/>
<line x1="258.51" x2="275.21" y1="123.1" y2="123.1" stroke="#464646" stroke-width="1.6" stroke-dasharray="10.2 3.4"/>
<path d="M299.09,67.9 L299.16,68.4 L299.24,68.9 L299.32,69.4 L299.39,69.9 L299.46,70.4 L299.53,70.9 L299.6,71.4 L299.67,71.9 L299.74,72.4 L299.8,72.9 L299.87,73.4 L299.93,73.9 L299.99,74.4 L300.05,74.9 L300.1,75.4 L300.16,75.9 L300.21,76.4 L300.26,76.9 L300.31,77.4 L300.36,77.9 L300.41,78.4 L300.46,78.9 L300.51,79.4 L300.56,79.9 L300.61,80.4 L300.65,80.9 L300.7,81.4 L300.75,81.9 L300.8,82.4 L300.85,82.9 L300.89,83.4 L300.94,83.9 L300.99,84.4 L301.04,84.9 L301.09,85.4 L301.14,85.9 L301.19,86.4 L301.23,86.9 L301.28,87.4 L301.32,87.9 L301.36,88.4 L301.4,88.9 L301.44,89.4 L301.47,89.9 L301.51,90.4 L301.54,90.9 L301.57,91.4 L301.59,91.9 L301.62,92.4 L301.64,92.9 L301.67,93.4 L301.69,93.9 L301.72,94.4 L301.74,94.9 L301.76,95.4 L301.79,95.9 L301.81,96.4 L301.83,96.9 L301.86,97.4 L301.89,97.9 L301.92,98.4 L301.95,98.9 L301.99,99.4 L302.03,99.9 L302.07,100.4 L302.11,100.9 L302.15,101.4 L302.18,101.9 L302.22,102.4 L302.24,102.9 L302.27,103.4 L302.28,103.9 L302.29,104.4 L302.29,104.9 L302.29,105.4 L302.29,105.9 L302.29,106.4 L302.29,106.9 L302.29,107.4 L302.29,107.9 L302.29,108.4 L302.29,108.9 L302.29,109.4 L302.29,109.9 L302.29,110.4 L302.29,110.9 L302.29,111.4 L302.29,111.9 L302.3,112.4 L302.3,112.9 L302.31,113.4 L302.32,113.9 L302.32,114.4 L302.33,114.9 L302.34,115.4 L302.35,115.9 L302.36,116.4 L302.37,116.9 L302.38,117.4 L302.4,117.9 L302.41,118.4 L302.43,118.9 L302.46,119.4 L302.49,119.9 L302.52,120.4 L302.55,120.9 L302.59,121.4 L302.63,121.9 L302.66,122.4 L302.7,122.9 L302.74,123.4 L302.77,123.9 L302.81,124.4 L302.84,124.9 L302.88,125.4 L302.91,125.9 L302.95,126.4 L302.98,126.9 L303.02,127.4 L303.06,127.9 L303.1,128.4 L303.14,128.9 L303.18,129.4 L303.22,129.9 L303.27,130.4 L303.32,130.9 L303.38,131.4 L303.45,131.9 L303.52,132.4 L303.6,132.9 L303.68,133.4 L303.76,133.9 L303.83,134.4 L303.89,134.9 L303.94,135.4 L303.97,135.9 L303.99,136.4 L303.99,136.9 L303.98,137.4 L303.96,137.9 L303.94,138.4 L303.92,138.9 L303.89,139.4 L303.86,139.9 L303.83,140.4 L303.8,140.9 L303.76,141.4 L303.72,141.9 L303.69,142.4 L303.65,142.9 L303.6,143.4 L303.54,143.9 L303.48,144.4 L303.42,144.9 L303.35,145.4 L303.27,145.9 L303.2,146.4 L303.12,146.9 L303.04,147.4 L302.95,147.9 L302.87,148.4 L302.78,148.9 L302.69,149.4 L302.59,149.9 L302.48,150.4 L302.37,150.9 L302.26,151.4 L302.15,151.9 L302.03,152.4 L301.92,152.9 L301.81,153.4 L301.7,153.9 L301.58,154.4 L301.47,154.9 L301.35,155.4 L301.23,155.9 L301.12,156.4 L301,156.9 L300.88,157.4 L300.77,157.9 L300.65,158.4 L300.54,158.9 L300.44,159.4 L300.33,159.9 L300.22,160.4 L300.12,160.9 L300.02,161.4 L299.91,161.9 L299.81,162.4 L299.7,162.9 L299.6,163.4 L299.5,163.9 L299.39,164.4 L299.29,164.9 L299.19,165.4 L299.09,165.9 L299.09,165.9 L298.99,165.4 L298.88,164.9 L298.78,164.4 L298.68,163.9 L298.57,163.4 L298.47,162.9 L298.37,162.4 L298.26,161.9 L298.16,161.4 L298.06,160.9 L297.95,160.4 L297.85,159.9 L297.74,159.4 L297.63,158.9 L297.52,158.4 L297.41,157.9 L297.29,157.4 L297.18,156.9 L297.06,156.4 L296.94,155.9 L296.82,155.4 L296.71,154.9 L296.59,154.4 L296.48,153.9 L296.37,153.4 L296.25,152.9 L296.14,152.4 L296.03,151.9 L295.91,151.4 L295.8,150.9 L295.69,150.4 L295.59,149.9 L295.49,149.4 L295.39,148.9 L295.3,148.4 L295.22,147.9 L295.14,147.4 L295.06,146.9 L294.98,146.4 L294.9,145.9 L294.83,145.4 L294.76,144.9 L294.69,144.4 L294.63,143.9 L294.58,143.4 L294.53,142.9 L294.49,142.4 L294.45,141.9 L294.41,141.4 L294.38,140.9 L294.34,140.4 L294.31,139.9 L294.28,139.4 L294.25,138.9 L294.23,138.4 L294.21,137.9 L294.2,137.4 L294.19,136.9 L294.19,136.4 L294.2,135.9 L294.24,135.4 L294.28,134.9 L294.35,134.4 L294.42,133.9 L294.49,133.4 L294.57,132.9 L294.65,132.4 L294.73,131.9 L294.8,131.4 L294.86,130.9 L294.91,130.4 L294.95,129.9 L294.99,129.4 L295.04,128.9 L295.08,128.4 L295.12,127.9 L295.15,127.4 L295.19,126.9 L295.23,126.4 L295.26,125.9 L295.3,125.4 L295.33,124.9 L295.37,124.4 L295.4,123.9 L295.44,123.4 L295.47,122.9 L295.51,122.4 L295.55,121.9 L295.59,121.4 L295.62,120.9 L295.65,120.4 L295.69,119.9 L295.72,119.4 L295.74,118.9 L295.76,118.4 L295.78,117.9 L295.79,117.4 L295.8,116.9 L295.81,116.4 L295.82,115.9 L295.83,115.4 L295.84,114.9 L295.85,114.4 L295.86,113.9 L295.87,113.4 L295.87,112.9 L295.88,112.4 L295.88,111.9 L295.88,111.4 L295.89,110.9 L295.89,110.4 L295.89,109.9 L295.89,109.4 L295.89,108.9 L295.89,108.4 L295.89,107.9 L295.89,107.4 L295.89,106.9 L295.89,106.4 L295.89,105.9 L295.89,105.4 L295.89,104.9 L295.89,104.4 L295.89,103.9 L295.91,103.4 L295.93,102.9 L295.96,102.4 L295.99,101.9 L296.03,101.4 L296.06,100.9 L296.11,100.4 L296.15,99.9 L296.19,99.4 L296.22,98.9 L296.26,98.4 L296.29,97.9 L296.31,97.4 L296.34,96.9 L296.37,96.4 L296.39,95.9 L296.41,95.4 L296.44,94.9 L296.46,94.4 L296.48,93.9 L296.51,93.4 L296.53,92.9 L296.56,92.4 L296.58,91.9 L296.61,91.4 L296.64,90.9 L296.67,90.4 L296.7,89.9 L296.74,89.4 L296.77,88.9 L296.81,88.4 L296.85,87.9 L296.9,87.4 L296.94,86.9 L296.99,86.4 L297.04,85.9 L297.09,85.4 L297.13,84.9 L297.18,84.4 L297.23,83.9 L297.28,83.4 L297.33,82.9 L297.38,82.4 L297.43,81.9 L297.47,81.4 L297.52,80.9 L297.57,80.4 L297.62,79.9 L297.66,79.4 L297.71,78.9 L297.76,78.4 L297.81,77.9 L297.86,77.4 L297.91,76.9 L297.96,76.4 L298.02,75.9 L298.07,75.4 L298.13,74.9 L298.19,74.4 L298.25,73.9 L298.31,73.4 L298.37,72.9 L298.44,72.4 L298.5,71.9 L298.57,71.4 L298.64,70.9 L298.71,70.4 L298.79,69.9 L298.86,69.4 L298.93,68.9 L299.01,68.4 L299.09,67.9Z" fill="#e78cd7" stroke="#464646" stroke-width="1.6" stroke-linejoin="round"/>
<line x1="295.92" x2="302.26" y1="110.4" y2="110.4" stroke="#464646" stroke-width="1.6" stroke-dasharray="3.4 3.4"/>
<line x1="294.28" x2="303.9" y1="135.5" y2="135.5" stroke="#464646" stroke-width="1.6" stroke-dasharray="6.8 6.8"/>
<line x1="294.53" x2="303.64" y1="142.4" y2="142.4" stroke="#464646" stroke-width="1.6" stroke-dasharray="3.4 3.4"/>
<rect x="402.94" y="23" width="26.72" height="29.9" fill="#ea96a3" stroke="#464646" stroke-width="1.6"/>
<line x1="402.94" x2="429.66" y1="49.6" y2="49.6" stroke="#464646" stroke-width="1.6"/>
<path d="M416.3,144.45 L419,148.25 L416.3,152.05 L413.6,148.25 Z" fill="#464646"/>
<line x1="449.7" x2="449.7" y1="111.35" y2="126.9" stroke="#464646" stroke-width="1.6"/>
<line x1="443.02" x2="456.38" y1="126.9" y2="126.9" stroke="#464646" stroke-width="1.6" stroke-linecap="square"/>
<rect x="436.34" y="97.25" width="26.72" height="14.1" fill="#ca984c" stroke="#464646" stroke-width="1.6"/>
<line x1="436.34" x2="463.06" y1="97.25" y2="97.25" stroke="#464646" stroke-width="1.6"/>
<path d="M449.7,42.1 L452.4,45.9 L449.7,49.7 L447,45.9 Z" fill="#464646"/>
<line x1="483.1" x2="483.1" y1="72.9" y2="106.6" stroke="#464646" stroke-width="1.6"/>
<line x1="476.42" x2="489.78" y1="72.9" y2="72.9" stroke="#464646" stroke-width="1.6" stroke-linecap="square"/>
<line x1="483.1" x2="483.1" y1="167.8" y2="184" stroke="#464646" stroke-width="1.6"/>
<line x1="476.42" x2="489.78" y1="184" y2="184" stroke="#464646" stroke-width="1.6" stroke-linecap="square"/>
<rect x="469.74" y="106.6" width="26.72" height="61.2" fill="#98a246" stroke="#464646" stroke-width="1.6"/>
<line x1="469.74" x2="496.46" y1="118.8" y2="118.8" stroke="#464646" stroke-width="1.6"/>
<line x1="516.5" x2="516.5" y1="91.5" y2="92.4" stroke="#464646" stroke-width="1.6"/>
<line x1="509.82" x2="523.18" y1="91.5" y2="91.5" stroke="#464646" stroke-width="1.6" stroke-linecap="square"/>
<rect x="503.14" y="92.4" width="26.72" height="79.1" fill="#49af72" stroke="#464646" stroke-width="1.6"/>
<line x1="503.14" x2="529.86" y1="103.5" y2="103.5" stroke="#464646" stroke-width="1.6"/>
<line x1="549.9" x2="549.9" y1="46.9" y2="49.7" stroke="#464646" stroke-width="1.6"/>
<line x1="543.22" x2="556.58" y1="46.9" y2="46.9" stroke="#464646" stroke-width="1.6" stroke-linecap="square"/>
<rect x="536.54" y="49.7" width="26.72" height="10.2" fill="#4baba4" stroke="#464646" stroke-width="1.6"/>
<line x1="536.54" x2="563.26" y1="58.1" y2="58.1" stroke="#464646" stroke-width="1.6"/>
<path d="M549.9,119.6 L552.6,123.4 L549.9,127.2 L547.2,123.4 Z" fill="#464646"/>
<rect x="569.94" y="72" width="26.72" height="3" fill="#53accd" stroke="#464646" stroke-width="1.6"/>
<line x1="569.94" x2="596.66" y1="75" y2="75" stroke="#464646" stroke-width="1.6"/>
<path d="M583.3,117.3 L586,121.1 L583.3,124.9 L580.6,121.1 Z" fill="#464646"/>
<line x1="616.7" x2="616.7" y1="76.3" y2="78.9" stroke="#464646" stroke-width="1.6"/>
<line x1="610.02" x2="623.38" y1="76.3" y2="76.3" stroke="#464646" stroke-width="1.6" stroke-linecap="square"/>
<rect x="603.34" y="78.9" width="26.72" height="50" fill="#b6a8eb" stroke="#464646" stroke-width="1.6"/>
<line x1="603.34" x2="630.06" y1="78.9" y2="78.9" stroke="#464646" stroke-width="1.6"/>
<line x1="650.1" x2="650.1" y1="43.4" y2="47.5" stroke="#464646" stroke-width="1.6"/>
<line x1="643.42" x2="656.78" y1="43.4" y2="43.4" stroke="#464646" stroke-width="1.6" stroke-linecap="square"/>
<line x1="650.1" x2="650.1" y1="99" y2="132.8" stroke="#464646" stroke-width="1.6"/>
<line x1="643.42" x2="656.78" y1="132.8" y2="132.8" stroke="#464646" stroke-width="1.6" stroke-linecap="square"/>
<rect x="636.74" y="47.5" width="26.72" height="51.5" fill="#e78cd7" stroke="#464646" stroke-width="1.6"/>
<line x1="636.74" x2="663.46" y1="58.4" y2="58.4" stroke="#464646" stroke-width="1.6"/>
<text x="107.05" y="206.6" text-anchor="end" transform="rotate(-45 107.05 206.6)">VMD-LSTM-ERSA</text>
<text x="136.73" y="206.6" text-anchor="end" transform="rotate(-45 136.73 206.6)">VMD-LSTM-RSA</text>
<text x="169.17" y="206.6" text-anchor="end" transform="rotate(-45 169.17 206.6)">VMD-LSTM-PSO</text>
<text x="201.18" y="206.6" text-anchor="end" transform="rotate(-45 201.18 206.6)">VMD-LSTM-ABC</text>
<text x="230.23" y="206.6" text-anchor="end" transform="rotate(-45 230.23 206.6)">VMD-LSTM-FA</text>
<text x="266.27" y="206.6" text-anchor="end" transform="rotate(-45 266.27 206.6)">VMD-LSTM-HHO</text>
<text x="299.13" y="206.6" text-anchor="end" transform="rotate(-45 299.13 206.6)">VMD-LSTM-WOA</text>
<text x="332.63" y="206.6" text-anchor="end" transform="rotate(-45 332.63 206.6)">VMD-LSTM-ChOA</text>
<text x="451.08" y="203.4" text-anchor="end" transform="rotate(-45 451.08 203.4)" class="r">VMD-LSTM-ERSA</text>
<text x="481.84" y="203.4" text-anchor="end" transform="rotate(-45 481.84 203.4)" class="r">VMD-LSTM-RSA</text>
<text x="515.46" y="203.4" text-anchor="end" transform="rotate(-45 515.46 203.4)" class="r">VMD-LSTM-PSO</text>
<text x="548.64" y="203.4" text-anchor="end" transform="rotate(-45 548.64 203.4)" class="r">VMD-LSTM-ABC</text>
<text x="578.74" y="203.4" text-anchor="end" transform="rotate(-45 578.74 203.4)" class="r">VMD-LSTM-FA</text>
<text x="616.1" y="203.4" text-anchor="end" transform="rotate(-45 616.1 203.4)" class="r">VMD-LSTM-HHO</text>
<text x="650.16" y="203.4" text-anchor="end" transform="rotate(-45 650.16 203.4)" class="r">VMD-LSTM-WOA</text>
<text x="684.88" y="203.4" text-anchor="end" transform="rotate(-45 684.88 203.4)" class="r">VMD-LSTM-ChOA</text>
<text x="186.3" y="281.6" text-anchor="middle">Algorithm</text>
<text x="533.2" y="281.8" text-anchor="middle" class="r">Algorithm</text>
<text x="8.2" y="109.9" text-anchor="middle" transform="rotate(-90 8.2 109.9)">Objective</text>
<text transform="translate(360.3 104.2) rotate(-90)" text-anchor="middle" class="r"><tspan font-style="italic">R</tspan><tspan font-size="8.2" dy="-4.4" dx="1.1">2</tspan></text>
<text x="186.3" y="20.25" text-anchor="middle">Wind energy VMD -&#160; objective violin plot diagram</text>
<text x="533.2" y="10.1" text-anchor="middle" class="r">Wind energy VMD -&#160; <tspan font-style="italic">R</tspan><tspan font-size="8.2" dy="-4.4" dx="1.1">2</tspan><tspan dy="4.4" dx="0.8"> box plot diagram</tspan></text>
</svg></body></html>
